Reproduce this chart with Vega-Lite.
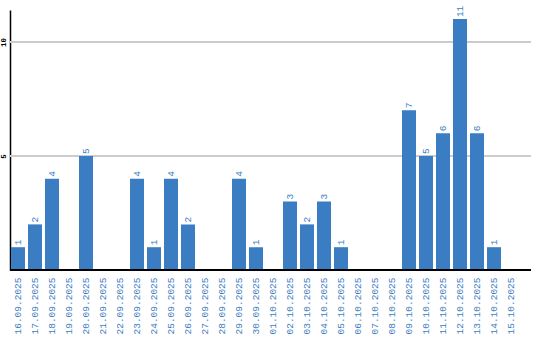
{
  "$schema": "https://vega.github.io/schema/vega-lite/v6.json",
  "autosize": "none",
  "width": 521,
  "height": 260,
  "padding": {"left": 10, "top": 10, "right": 9, "bottom": 70},
  "background": "white",
  "config": {"view": {"stroke": null}},
  "data": {"values": [
    {"date": "16.09.2025", "count": 1},
    {"date": "17.09.2025", "count": 2},
    {"date": "18.09.2025", "count": 4},
    {"date": "19.09.2025", "count": 0},
    {"date": "20.09.2025", "count": 5},
    {"date": "21.09.2025", "count": 0},
    {"date": "22.09.2025", "count": 0},
    {"date": "23.09.2025", "count": 4},
    {"date": "24.09.2025", "count": 1},
    {"date": "25.09.2025", "count": 4},
    {"date": "26.09.2025", "count": 2},
    {"date": "27.09.2025", "count": 0},
    {"date": "28.09.2025", "count": 0},
    {"date": "29.09.2025", "count": 4},
    {"date": "30.09.2025", "count": 1},
    {"date": "01.10.2025", "count": 0},
    {"date": "02.10.2025", "count": 3},
    {"date": "03.10.2025", "count": 2},
    {"date": "04.10.2025", "count": 3},
    {"date": "05.10.2025", "count": 1},
    {"date": "06.10.2025", "count": 0},
    {"date": "07.10.2025", "count": 0},
    {"date": "08.10.2025", "count": 0},
    {"date": "09.10.2025", "count": 7},
    {"date": "10.10.2025", "count": 5},
    {"date": "11.10.2025", "count": 6},
    {"date": "12.10.2025", "count": 11},
    {"date": "13.10.2025", "count": 6},
    {"date": "14.10.2025", "count": 1},
    {"date": "15.10.2025", "count": 0}
  ]},
  "encoding": {
    "x": {
      "field": "date", "type": "nominal", "sort": null,
      "scale": {"range": [-0.5, 509.5], "paddingInner": 0.1765, "paddingOuter": 0.088},
      "axis": {
        "title": null, "domain": false, "ticks": false, "grid": false,
        "labelAngle": 270, "labelPadding": 7, "labelFont": "Liberation Mono",
        "labelFontSize": 9.5, "labelColor": "#3b7dc3", "labelAlign": "right", "labelBaseline": "middle"
      }
    },
    "y": {
      "field": "count", "type": "quantitative",
      "scale": {"domain": [0, 11.4], "nice": false},
      "axis": {
        "title": null, "values": [5, 10], "ticks": false, "grid": false,
        "domainColor": "#000000", "domainWidth": 1.5,
        "labelAngle": 270, "labelPadding": 3, "labelFont": "Liberation Mono",
        "labelFontSize": 7.5, "labelFontWeight": "bold", "labelColor": "#000000"
      }
    }
  },
  "layer": [
    {
      "mark": {"type": "rule", "color": "#cccccc", "strokeWidth": 1},
      "encoding": {"y": {"datum": 5}, "x": null}
    },
    {
      "mark": {"type": "rule", "color": "#cccccc", "strokeWidth": 1},
      "encoding": {"y": {"datum": 10}, "x": null}
    },
    {
      "mark": {"type": "bar", "color": "#3b7dc3"}
    },
    {
      "transform": [{"filter": "datum.count > 0"}],
      "mark": {"type": "text", "angle": 270, "align": "left", "baseline": "middle",
               "dx": 2, "font": "Liberation Mono", "fontSize": 9.5, "color": "#3b7dc3"},
      "encoding": {"text": {"field": "count", "type": "quantitative"}}
    },
    {
      "mark": {"type": "rule", "color": "#000000", "strokeWidth": 1.5},
      "encoding": {"y": {"datum": 0}, "x": null}
    }
  ]
}
